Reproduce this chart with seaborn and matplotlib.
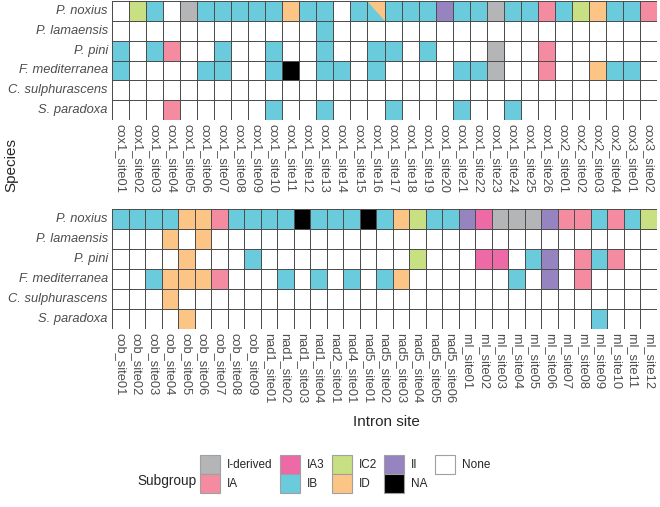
import numpy as np
import pandas as pd
import seaborn as sns
import matplotlib.pyplot as plt
from matplotlib.colors import ListedColormap
from matplotlib.patches import Patch, Rectangle

# subgroup categories and their fill colours
subgroups = ["I-derived", "IA", "IA3", "IB", "IC2", "ID", "II", "NA", "None"]
subgroup_colors = ["#B3B5B7", "#F48BA0", "#EE6AA6", "#6ACBDD", "#C8DF82",
                   "#FCC585", "#9584C0", "#000000", "#FFFFFF"]

species = ["P. noxius", "P. lamaensis", "P. pini", "F. mediterranea",
           "C. sulphurascens", "S. paradoxa"]

# intron sites per gene (gene, number of sites)
top_genes = [("cox1", 26), ("cox2", 4), ("cox3", 2)]
bottom_genes = [("cob", 9), ("nad1", 4), ("nad2", 1), ("nad4", 1), ("nad5", 6), ("rnl", 12)]

N = "None"
D = "I-derived"

# top panel: cox1 (26) | cox2 (4) | cox3 (2)
top_noxius = [N, "IC2", "IB", N, D, "IB", "IB", "IB", "IB", "IB", "ID", "IB", "IB",
              N, "IB", "IB", "IB", "IB", "IB", "II", "IB", "IB", D, "IB", "IB", "IA",
              "IB", "IC2", "ID", "IB", "IB", "IA"]
top_lamaensis = [N, N, N, N, N, N, N, N, N, N, N, N, "IB",
                 N, N, N, N, N, N, N, N, N, N, N, N, N,
                 N, N, N, N, N, N]
top_pini = ["IB", N, "IB", "IA", N, N, "IB", N, N, "IB", N, N, "IB",
            N, N, "IB", "IB", N, "IB", N, N, N, D, N, N, "IA",
            N, N, N, N, N, N]
top_mediterranea = ["IB", N, N, N, N, "IB", "IB", N, N, "IB", "NA", N, "IB",
                    "IB", N, "IB", N, N, N, N, "IB", "IB", D, N, N, "IA",
                    N, N, "ID", "IB", "IB", N]
top_sulphurascens = [N] * 32
top_paradoxa = [N, N, N, "IA", N, N, N, N, N, "IB", N, N, "IB",
                N, N, N, "IB", N, N, N, "IB", N, N, "IB", N, N,
                N, N, N, N, N, N]
# cells shared by two subgroups (second subgroup drawn as upper-right triangle)
top_split = [("P. noxius", "cox1_site16", "ID")]

# bottom panel: cob (9) | nad1 (4) | nad2 | nad4 | nad5 (6) | rnl (12)
bottom_noxius = ["IB", "IB", "IB", "IB", "ID", "ID", "IA", "IB", "IB",
                 "IB", "IB", "NA", "IB", "IB", "IB",
                 "NA", "IB", "ID", "IC2", "IB", "IB",
                 "II", "IA3", D, D, D, "II", "IA", "IA", "IB", "IA", "IB", "IC2"]
bottom_lamaensis = [N, N, N, "ID", N, "ID", N, N, N,
                    N, N, N, N, N, N,
                    N, N, N, N, N, N,
                    N, N, N, N, N, N, N, N, N, N, N, N]
bottom_pini = [N, N, N, N, "ID", N, N, N, "IB",
               N, N, N, N, N, N,
               N, N, N, "IC2", N, N,
               N, "IA3", "IA3", N, "IB", "II", N, "IA", "IB", "IA", N, N]
bottom_mediterranea = [N, N, "IB", "ID", "ID", "ID", "IA", N, N,
                       N, "IB", N, "IB", N, "IB",
                       N, "IB", "ID", N, N, N,
                       N, N, N, "IB", N, "II", N, "IA", N, N, N, N]
bottom_sulphurascens = [N, N, N, "ID", N, N, N, N, N,
                        N, N, N, N, N, N,
                        N, N, N, N, N, N,
                        N, N, N, N, N, N, N, N, N, N, N, N]
bottom_paradoxa = [N, N, N, N, "ID", N, N, N, N,
                   N, N, N, N, N, N,
                   N, N, N, N, N, N,
                   N, N, N, N, N, N, N, N, "IB", N, N, N]


def site_names(genes):
    return [f"{g}_site{i:02d}" for g, n in genes for i in range(1, n + 1)]


top_sites = site_names(top_genes)
bottom_sites = site_names(bottom_genes)

top_df = pd.DataFrame([top_noxius, top_lamaensis, top_pini, top_mediterranea,
                       top_sulphurascens, top_paradoxa], index=species, columns=top_sites)
bottom_df = pd.DataFrame([bottom_noxius, bottom_lamaensis, bottom_pini, bottom_mediterranea,
                          bottom_sulphurascens, bottom_paradoxa], index=species, columns=bottom_sites)

code = {g: i for i, g in enumerate(subgroups)}
color_of = dict(zip(subgroups, subgroup_colors))
cmap = ListedColormap(subgroup_colors)

sns.set_style("white")
plt.rcParams["font.family"] = ["Liberation Sans", "DejaVu Sans"]

W, H = 660, 507
fig = plt.figure(figsize=(W / 100, H / 100), dpi=100)


def rect(l, t, r, b):
    return [l / W, 1 - b / H, (r - l) / W, (b - t) / H]


ax1 = fig.add_axes(rect(112, 1, 657, 120))
ax2 = fig.add_axes(rect(112, 209, 657, 329))

grid_col = "#4d4d4d"
for ax, df in [(ax1, top_df), (ax2, bottom_df)]:
    sns.heatmap(df.map(code.get), ax=ax, cmap=cmap, vmin=-0.5, vmax=len(subgroups) - 0.5,
                cbar=False, linewidths=0.6, linecolor=grid_col,
                xticklabels=True, yticklabels=True)
    ax.set_xlabel("")
    ax.set_ylabel("")
    ax.tick_params(length=0, pad=3, labelsize=9.3, labelcolor="#4d4d4d")
    ax.tick_params(axis="x", labelrotation=270)
    ax.tick_params(axis="y", labelrotation=0)
    for t in ax.get_yticklabels():
        t.set_fontstyle("italic")

for sp, site, grp in top_split:
    i = species.index(sp)
    j = top_sites.index(site)
    ax1.fill([j, j + 1, j + 1], [i, i, i + 1], color=color_of[grp], lw=0, zorder=3)
    ax1.add_patch(Rectangle((j, i), 1, 1, fill=False, ec=grid_col, lw=0.6, zorder=4))

fig.text(11 / W, 1 - 165 / H, "Species", rotation=90, ha="center", va="center", fontsize=11)
fig.text(386 / W, 1 - 422 / H, "Intron site", ha="center", va="center", fontsize=11)

handles = [Patch(facecolor=c, edgecolor="#a0a0a0", lw=0.8, label=g)
           for g, c in zip(subgroups, subgroup_colors)]
fig.legend(handles=handles, ncol=5, loc="upper left", bbox_to_anchor=(200 / W, 1 - 455 / H),
           frameon=False, fontsize=8.5, handlelength=1.7, handleheight=2.1,
           labelspacing=0, handletextpad=0.6, columnspacing=0.6,
           borderpad=0, borderaxespad=0)
fig.text(137 / W, 1 - 481 / H, "Subgroup", ha="left", va="center", fontsize=9.8)

fig.savefig("out.png", dpi=100)
